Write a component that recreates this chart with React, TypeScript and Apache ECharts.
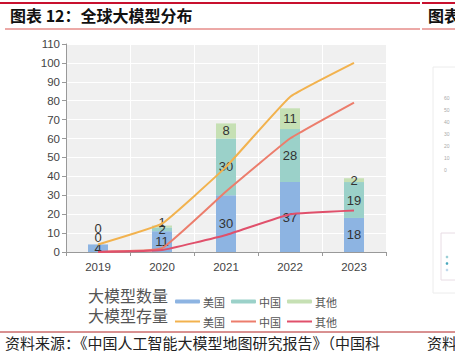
import React, { useEffect, useRef } from "react";
import * as echarts from "echarts";

const years = ["2019", "2020", "2021", "2022", "2023"];
const countUS = [4, 11, 30, 37, 18];
const countCN = [0, 2, 30, 28, 19];
const countOther = [0, 1, 8, 11, 2];
const stockUS = [4, 15, 45, 82, 100];
const stockCN = [0, 2, 32, 60, 79];
const stockOther = [0, 1, 9, 20, 22];
const regionNames = ["美国", "中国", "其他"];
const sideTicks = ["60", "50", "40", "30", "20", "10", "0"];

const barColors = ["#8db4e2", "#9bd1c9", "#c6e0b4"];
const lineColors = ["#f2b24e", "#ec7d6c", "#e0506b"];
const FONT = "Liberation Sans, Arial, sans-serif";
const CJK = "Noto Sans CJK SC, sans-serif";

function barData(values: number[], idx: number) {
  return values.map((v) => {
    if (v === 0) {
      return { value: v, label: { position: "top", distance: idx === 1 ? 0 : 9 } };
    }
    if (v === 1) {
      return { value: v, label: { position: "top", distance: -3 } };
    }
    return v;
  });
}

export default function App() {
  const ref = useRef<HTMLDivElement>(null);
  useEffect(() => {
    const chart = echarts.init(ref.current!, null, { renderer: "svg" });
    const counts = [countUS, countCN, countOther];
    const stocks = [stockUS, stockCN, stockOther];
    const barSeries = counts.map((vals, i) => ({
      name: "数量" + regionNames[i],
      type: "bar",
      stack: "count",
      barWidth: 20,
      itemStyle: { color: barColors[i] },
      label: {
        show: true,
        position: "inside",
        color: "#333",
        fontSize: 13,
        fontFamily: FONT,
      },
      data: barData(vals, i),
    }));
    const lineSeries = stocks.map((vals, i) => ({
      name: "存量" + regionNames[i],
      type: "line",
      smooth: 0.1,
      showSymbol: false,
      symbol: "none",
      lineStyle: { color: lineColors[i], width: 2 },
      itemStyle: { color: lineColors[i] },
      data: vals,
    }));
    const legendCommon = {
      left: 170,
      itemWidth: 25,
      itemGap: 6,
      icon: "roundRect",
      formatter: (n: string) => n.slice(2),
      textStyle: { fontSize: 11, color: "#555", fontFamily: CJK, padding: [0, 0, 0, -2] },
      selectedMode: false,
    };
    chart.setOption({
      animation: false,
      grid: {
        left: 66,
        right: 69,
        top: 44,
        bottom: 102,
        show: true,
        backgroundColor: "#f0f0f0",
        borderWidth: 0,
      },
      legend: [
        {
          ...legendCommon,
          top: 291,
          itemHeight: 4,
          data: regionNames.map((n) => "数量" + n),
        },
        {
          ...legendCommon,
          top: 311,
          itemHeight: 2,
          icon: "rect",
          data: regionNames.map((n) => "存量" + n),
        },
      ],
      xAxis: {
        type: "category",
        data: years,
        axisLine: { lineStyle: { color: "#999" } },
        axisTick: { show: true, lineStyle: { color: "#999" }, length: 4 },
        axisLabel: { color: "#444", fontSize: 11.5, fontFamily: FONT, margin: 9 },
        splitLine: { show: true, lineStyle: { color: "#ffffff", width: 1 } },
      },
      yAxis: {
        type: "value",
        min: 0,
        max: 110,
        interval: 10,
        axisLine: { show: true, lineStyle: { color: "#999" } },
        axisTick: { show: true, lineStyle: { color: "#999" }, length: 4 },
        axisLabel: { color: "#444", fontSize: 11.5, fontFamily: FONT, margin: 6 },
        splitLine: { show: true, lineStyle: { color: "#ffffff", width: 1 } },
      },
      series: [...barSeries, ...lineSeries],
      graphic: [
        { type: "line", shape: { x1: 0, y1: 3, x2: 420, y2: 3 }, style: { stroke: "#c8102e", lineWidth: 2 } },
        { type: "line", shape: { x1: 422, y1: 3, x2: 455, y2: 3 }, style: { stroke: "#c8102e", lineWidth: 2 } },
        { type: "line", shape: { x1: 5, y1: 29, x2: 420, y2: 29 }, style: { stroke: "#d9534f", lineWidth: 1 } },
        { type: "line", shape: { x1: 422, y1: 29, x2: 455, y2: 29 }, style: { stroke: "#d9534f", lineWidth: 1 } },
        {
          type: "text",
          left: 10,
          top: 7,
          style: { text: "图表 12：全球大模型分布", font: "bold 16px " + CJK, fill: "#111" },
        },
        {
          type: "text",
          left: 428,
          top: 7,
          style: { text: "图表", font: "bold 16px " + CJK, fill: "#111" },
        },
        {
          type: "text",
          left: 88,
          top: 287,
          style: { text: "大模型数量", font: "16px " + CJK, fill: "#555" },
        },
        {
          type: "text",
          left: 88,
          top: 307,
          style: { text: "大模型存量", font: "16px " + CJK, fill: "#555" },
        },
        { type: "line", shape: { x1: 0, y1: 332, x2: 455, y2: 332 }, style: { stroke: "#b22222", lineWidth: 1 } },
        {
          type: "text",
          left: 5,
          top: 335,
          style: { text: "资料来源：《中国人工智能大模型地图研究报告》（中国科", font: "15px " + CJK, fill: "#222" },
        },
        {
          type: "text",
          left: 427,
          top: 335,
          style: { text: "资料", font: "15px " + CJK, fill: "#222" },
        },
        { type: "rect", shape: { x: 433, y: 67, width: 30, height: 226 }, style: { fill: "none", stroke: "#ececec", lineWidth: 1 } },
        { type: "rect", shape: { x: 441, y: 233, width: 22, height: 47 }, style: { fill: "none", stroke: "#e8dce4", lineWidth: 1 } },
        ...sideTicks.map((t, i) => ({
          type: "text",
          left: 444,
          top: 95 + i * 12,
          style: { text: t, font: "5px " + FONT, fill: "#aaa" },
        })),
        ...["#9ccfd6", "#4aa8bd", "#c0d8ec"].map((c, i) => ({
          type: "circle",
          shape: { cx: 447, cy: 257 + i * 6.5, r: 1.3 },
          style: { fill: c },
        })),
      ],
    });
    return () => chart.dispose();
  }, []);
  return <div ref={ref} style={{ width: 455, height: 354, position: "absolute", left: 0, top: 0, background: "#fff" }} />;
}
